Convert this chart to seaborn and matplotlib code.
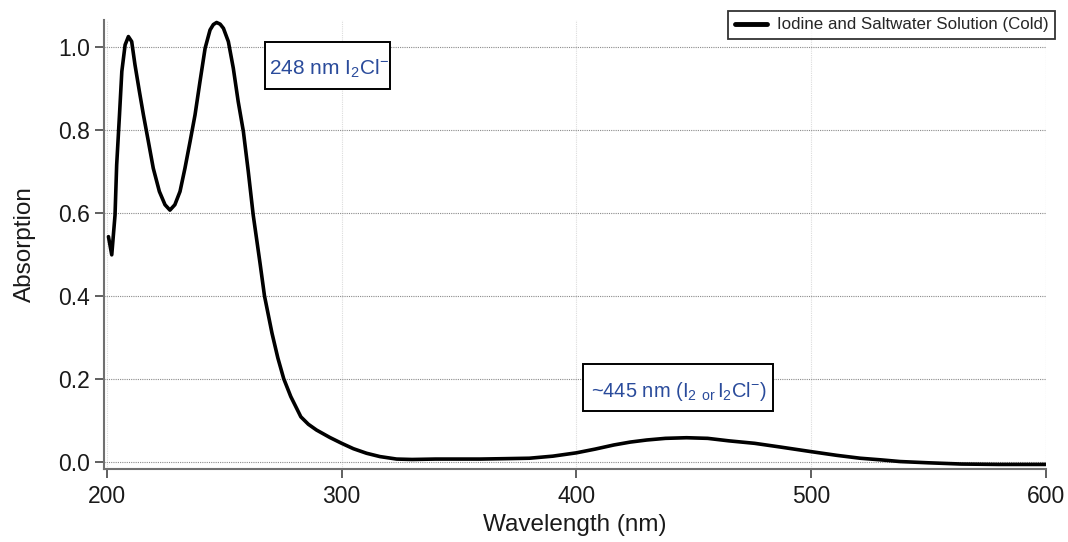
import seaborn as sns
import matplotlib.pyplot as plt
import pandas as pd
from matplotlib.patches import Rectangle

# spectrum
wavelength = [200.6, 202.0, 203.4, 204.1, 205.3, 206.3, 207.7, 209.1, 210.5, 211.9,
              213.8, 215.5, 217.6, 219.7, 222.3, 224.7, 226.8, 228.9, 231.1, 233.2,
              235.4, 237.5, 239.6, 241.8, 243.9, 245.3, 246.7, 248.2, 249.6, 251.7,
              253.8, 255.9, 258.1, 260.2, 262.3, 265.2, 267.1, 270.3, 272.8, 275.3,
              278.3, 282.6, 285.8, 289.3, 295.0, 300.0, 305.0, 310.6, 316.3, 323.4,
              330.0, 340.0, 350.0, 359.0, 370.0, 380.0, 390.0, 400.0, 408.0, 416.0,
              423.0, 430.0, 438.0, 447.0, 456.0, 465.0, 476.0, 487.0, 500.0, 511.0,
              521.0, 530.0, 538.0, 550.0, 564.0, 580.0, 590.0, 600.0]
absorption = [0.543, 0.499, 0.595, 0.716, 0.837, 0.942, 1.006, 1.026, 1.014, 0.958,
              0.893, 0.837, 0.773, 0.708, 0.652, 0.620, 0.607, 0.620, 0.652, 0.708,
              0.773, 0.837, 0.917, 0.998, 1.042, 1.055, 1.060, 1.056, 1.046, 1.014,
              0.950, 0.869, 0.797, 0.700, 0.595, 0.479, 0.400, 0.310, 0.250, 0.200,
              0.157, 0.108, 0.090, 0.076, 0.058, 0.044, 0.031, 0.020, 0.012, 0.006,
              0.005, 0.006, 0.006, 0.006, 0.007, 0.008, 0.013, 0.021, 0.030, 0.040,
              0.047, 0.052, 0.056, 0.0575, 0.056, 0.050, 0.044, 0.035, 0.024, 0.015,
              0.008, 0.004, 0.000, -0.003, -0.006, -0.007, -0.007, -0.007]

series_name = "Iodine and Saltwater Solution (Cold)"
x_ticks = [200, 300, 400, 500, 600]
y_ticks = [0.0, 0.2, 0.4, 0.6, 0.8, 1.0]

df = pd.DataFrame({"Wavelength (nm)": wavelength, "Absorption": absorption,
                   "series": series_name})

sns.set_style("ticks")
plt.rcParams['font.family'] = ['Liberation Sans', 'DejaVu Sans']
plt.rcParams['mathtext.fontset'] = 'custom'
plt.rcParams['mathtext.rm'] = 'Liberation Sans'
plt.rcParams['mathtext.it'] = 'Liberation Sans'

fig = plt.figure(figsize=(10.68, 5.42), dpi=100)
ax = fig.add_axes([104 / 1068, (542 - 469) / 542, (1046 - 104) / 1068, (469 - 20) / 542])

sns.lineplot(data=df, x="Wavelength (nm)", y="Absorption", hue="series",
             palette=["black"], linewidth=2.6, estimator=None, sort=False, ax=ax)

ax.set_xlim(198.7, 600.2)
ax.set_ylim(-0.018, 1.066)
ax.set_xticks(x_ticks)
ax.set_yticks(y_ticks)
ax.set_yticklabels(["{:.1f}".format(v) for v in y_ticks])

# grid: darker dotted horizontals, faint verticals
ax.grid(axis="y", linestyle=(0, (1, 1)), color="#8a8a8a", linewidth=0.8)
ax.grid(axis="x", linestyle=(0, (1, 1)), color="#dcdcdc", linewidth=0.8)
ax.axvline(600, linestyle=(0, (1, 1)), color="#dcdcdc", linewidth=0.8, zorder=0)

for side in ["top", "right"]:
    ax.spines[side].set_visible(False)
for side in ["left", "bottom"]:
    ax.spines[side].set_color("#707070")
    ax.spines[side].set_linewidth(1.5)
ax.tick_params(direction="out", length=6.5, width=1.2, color="#444444", pad=3.5,
               labelsize=16.5, labelcolor="#1a1a1a")
ax.tick_params(axis="x", pad=5)
ax.set_xlabel("Wavelength (nm)", fontsize=17.5, color="#1a1a1a", labelpad=4)
ax.set_ylabel("Absorption", fontsize=17.5, color="#1a1a1a", labelpad=16)

leg = ax.legend(loc="upper right", bbox_to_anchor=(1055 / 1068, 1 - 11 / 542),
                bbox_transform=fig.transFigure, borderaxespad=0, fontsize=12.2,
                frameon=True, fancybox=False, handlelength=1.9, borderpad=0.38,
                handletextpad=0.6)
leg.get_frame().set_edgecolor("black")
leg.get_frame().set_linewidth(1.3)
for line in leg.get_lines():
    line.set_linewidth(3.5)

# annotation boxes
blue = "#2a4b9b"
ax.add_patch(Rectangle((267.3, 0.900), 53.3, 0.113, facecolor="white",
                       edgecolor="black", linewidth=1.4, zorder=4))
ax.text(269.0, 0.934, r"248 nm I$_2$Cl$^{-}$", fontsize=15, color=blue,
        ha="left", va="baseline", zorder=5)
ax.add_patch(Rectangle((403.0, 0.123), 81.0, 0.113, facecolor="white",
                       edgecolor="black", linewidth=1.4, zorder=4))
ax.text(406.2, 0.157, r"~445 nm (I$_2\;{}_{\rm or}\,$I$_2$Cl$^{-}$)", fontsize=14.5,
        color=blue, ha="left", va="baseline", zorder=5)

fig.savefig("out.png", dpi=100)
